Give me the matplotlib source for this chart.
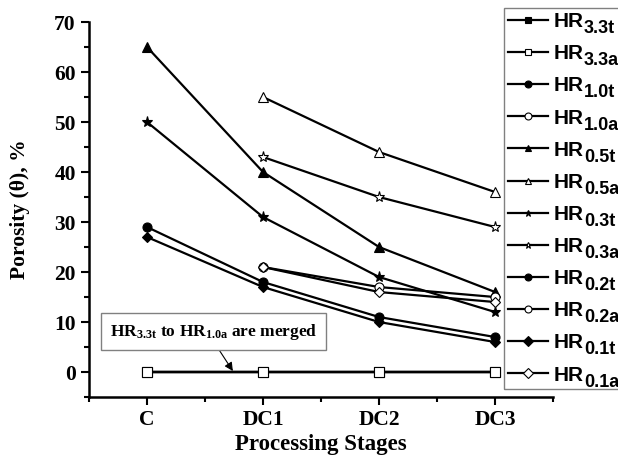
import matplotlib
matplotlib.use('Agg')
import matplotlib.pyplot as plt
from matplotlib.patches import Rectangle
from matplotlib.ticker import MultipleLocator

plt.rcParams['mathtext.default'] = 'regular'

stages = ['C', 'DC1', 'DC2', 'DC3']

# porosity values (%), None = not measured
hr33t = [0, 0, 0, 0]
hr33a = [0, 0, 0, 0]
hr10t = [0, 0, 0, 0]
hr10a = [0, 0, 0, 0]
hr05t = [65, 40, 25, 16]
hr05a = [None, 55, 44, 36]
hr03t = [50, 31, 19, 12]
hr03a = [None, 43, 35, 29]
hr02t = [29, 18, 11, 7]
hr02a = [None, 21, 17, 15]
hr01t = [27, 17, 10, 6]
hr01a = [None, 21, 16, 14]

# (subscript, values, marker, face colour)
series = [
    ('3.3t', hr33t, 's', 'k'),
    ('3.3a', hr33a, 's', 'w'),
    ('1.0t', hr10t, 'o', 'k'),
    ('1.0a', hr10a, 'o', 'w'),
    ('0.5t', hr05t, '^', 'k'),
    ('0.5a', hr05a, '^', 'w'),
    ('0.3t', hr03t, '*', 'k'),
    ('0.3a', hr03a, '*', 'w'),
    ('0.2t', hr02t, 'o', 'k'),
    ('0.2a', hr02a, 'o', 'w'),
    ('0.1t', hr01t, 'D', 'k'),
    ('0.1a', hr01a, 'D', 'w'),
]

fig = plt.figure(figsize=(6.18, 4.59), dpi=100)
ax = fig.add_axes([0.144, 0.135, 0.751, 0.817])

x = list(range(len(stages)))
handles = []
for sub, vals, mk, fc in series:
    xs = [xi for xi, v in zip(x, vals) if v is not None]
    ys = [v for v in vals if v is not None]
    ms = 6.5
    if mk == '*':
        ms = 8
    if mk == 'D':
        ms = 5.5
    z = 4 if sub == '3.3a' else 3
    h, = ax.plot(xs, ys, color='k', lw=1.6, marker=mk, markersize=ms,
                 markerfacecolor=fc, markeredgecolor='k', markeredgewidth=0.8,
                 label='HR', zorder=z)
    handles.append(h)

ax.set_xlim(-0.5, 3.5)
ax.set_ylim(-5, 70)
ax.set_xticks(x)
ax.set_xticklabels(stages)
ax.xaxis.set_minor_locator(MultipleLocator(0.5))
ax.yaxis.set_minor_locator(MultipleLocator(5))
ax.set_yticks(range(0, 71, 10))

for s in ['top', 'right']:
    ax.spines[s].set_visible(False)
for s in ['left', 'bottom']:
    ax.spines[s].set_linewidth(1.8)
ax.tick_params(which='major', direction='out', length=6, width=1.5)
ax.tick_params(which='minor', direction='out', length=3.5, width=1.5)

tfont = {'family': 'Liberation Serif', 'weight': 'bold'}
for lab in ax.get_xticklabels() + ax.get_yticklabels():
    lab.set_fontfamily('Liberation Serif')
    lab.set_fontweight('bold')
    lab.set_fontsize(15.5)

ax.set_xlabel('Processing Stages', fontdict=tfont, fontsize=16.5, labelpad=3)
ax.set_ylabel('Porosity (θ), %', fontdict=tfont, fontsize=15.5)
ax.yaxis.set_label_coords(-0.128, 0.5)

ax.annotate('HR$_{3.3t}$ to HR$_{1.0a}$ are merged', xy=(0.74, 0.2),
            xytext=(-0.32, 8.1), ha='left', va='center',
            fontfamily='Liberation Serif', fontweight='bold', fontsize=12.5,
            bbox=dict(boxstyle='square,pad=0.5', fc='w', ec='gray', lw=1),
            arrowprops=dict(arrowstyle='-|>', color='k', lw=0.8,
                            relpos=(0.5, 0), shrinkA=0, shrinkB=0),
            zorder=5)

leg = fig.legend(handles=handles, loc='upper left',
                 bbox_to_anchor=(504 / 618, 1 - 8 / 459),
                 prop={'family': 'Liberation Sans', 'weight': 'bold', 'size': 15},
                 frameon=False,
                 handlelength=1.9, handletextpad=0.28, labelspacing=0.63,
                 borderpad=0.2, borderaxespad=0)
for lh in leg.legend_handles:
    lh.set_markersize(5)

# full-size subscripts next to the legend labels, frame open at the right edge
fig.canvas.draw()
W, H = fig.bbox.width, fig.bbox.height
lb = leg.get_window_extent()
fig.patches.append(Rectangle((lb.x0 / W, lb.y0 / H), 1.0, (lb.y1 - lb.y0) / H,
                             transform=fig.transFigure, fill=False,
                             edgecolor='gray', lw=1))
for t, (sub, _, _, _) in zip(leg.get_texts(), series):
    bb = t.get_window_extent()
    fig.text((bb.x1 + 0.5) / W, (bb.y0 - 6) / H, sub, ha='left', va='bottom',
             fontfamily='Liberation Sans', fontweight='bold', fontsize=13)

fig.savefig('out.png', dpi=100)
